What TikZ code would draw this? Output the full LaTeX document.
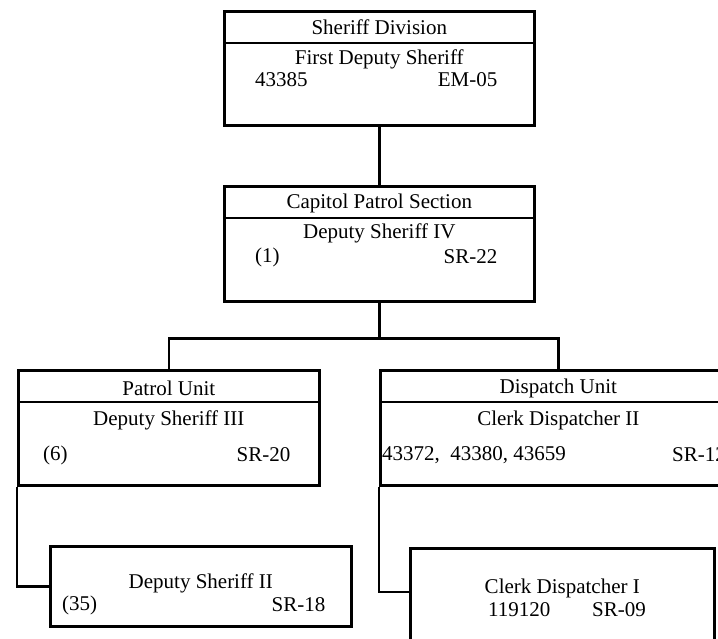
\documentclass[tikz,border=0pt]{standalone}
\usepackage{fontspec}
\setmainfont{Liberation Serif}
\usetikzlibrary{calc,positioning}
\tikzset{
  orgbox/.style={draw=black, line width=2.6pt, anchor=north west, inner sep=0pt},
  orgtext/.style={font=\fontsize{21}{24}\selectfont, inner sep=0pt},
  orgleft/.style={orgtext, anchor=west},
  orgright/.style={orgtext, anchor=east},
  orgline/.style={line width=2.6pt, black}
}

\begin{document}
\begin{tikzpicture}[x=1pt, y=-1pt]
\useasboundingbox (0,0) rectangle (718,638);
\clip (0,0) rectangle (718,638);
% boxes
\node[orgbox, minimum width=310, minimum height=114] (division) at (223,10) {};
\node[orgbox, minimum width=310, minimum height=115] (section) at (223,185) {};
\node[orgbox, minimum width=301, minimum height=115] (patrol) at (17,369) {};
\node[orgbox, minimum width=356, minimum height=115] (dispatch) at (379,369) {};
\node[orgbox, minimum width=301, minimum height=80] (deputy) at (49,545) {};
\node[orgbox, minimum width=304, minimum height=110] (clerk) at (409,547) {};
% title rules
\draw[orgline] ($(division.north west)+(0,33)$) -- ($(division.north east)+(0,33)$);
\draw[orgline] ($(section.north west)+(0,33)$) -- ($(section.north east)+(0,33)$);
\draw[orgline] ($(patrol.north west)+(0,33)$) -- ($(patrol.north east)+(0,33)$);
\draw[orgline] ($(dispatch.north west)+(0,33)$) -- ($(dispatch.north east)+(0,33)$);
% texts
\node[orgtext] (division-name) at ($(division.north)+(0,17)$) {Sheriff Division};
\node[orgtext] (division-title) at ($(division.north)+(0,49)$) {First Deputy Sheriff};
\node[orgleft] (division-no) at ($(division.north west)+(32,70)$) {43385};
\node[orgright] (division-grade) at ($(division.north east)+(-38,70)$) {EM-05};

\node[orgtext] (section-name) at ($(section.north)+(0,18)$) {Capitol Patrol Section};
\node[orgtext] (section-title) at ($(section.north)+(0,48)$) {Deputy Sheriff IV};
\node[orgleft] (section-no) at ($(section.north west)+(32,72)$) {(1)};
\node[orgright] (section-grade) at ($(section.north east)+(-38,72)$) {SR-22};

\node[orgtext] (patrol-name) at ($(patrol.north)+(0,19)$) {Patrol Unit};
\node[orgtext] (patrol-title) at ($(patrol.north)+(0,51)$) {Deputy Sheriff III};
\node[orgleft] (patrol-no) at ($(patrol.north west)+(26,86)$) {(6)};
\node[orgright] (patrol-grade) at ($(patrol.north east)+(-30,86)$) {SR-20};

\node[orgtext] (dispatch-name) at ($(dispatch.north)+(0,19)$) {Dispatch Unit};
\node[orgtext] (dispatch-title) at ($(dispatch.north)+(0,51)$) {Clerk Dispatcher II};
\node[orgleft] (dispatch-no) at ($(dispatch.north west)+(3,86)$) {43372,\ \ 43380, 43659};
\node[orgleft] (dispatch-grade) at ($(dispatch.north west)+(293,86)$) {SR-12};

\node[orgtext] (deputy-title) at ($(deputy.north)+(0,38)$) {Deputy Sheriff II};
\node[orgleft] (deputy-no) at ($(deputy.north west)+(13,60)$) {(35)};
\node[orgright] (deputy-grade) at ($(deputy.north east)+(-27,60)$) {SR-18};

\node[orgtext] (clerk-title) at ($(clerk.north)+(0,41)$) {Clerk Dispatcher I};
\node[orgleft] (clerk-no) at ($(clerk.north west)+(79,63)$) {119120};
\node[orgleft] (clerk-grade) at ($(clerk.north west)+(183,63)$) {SR-09};
% connectors
\coordinate (bus) at ($(section.south)+(0,36)$);
\coordinate (clerk-in) at ($(clerk.north west)+(0,45)$);
\draw[orgline] (division.south) -- (section.north);
\draw[orgline] (section.south) -- (bus);
\draw[orgline] (patrol.north) |- (bus) -| (dispatch.north);
\draw[orgline] (patrol.south west) |- (deputy.west);
\draw[orgline] (dispatch.south west) |- (clerk-in);
\end{tikzpicture}
\end{document}
